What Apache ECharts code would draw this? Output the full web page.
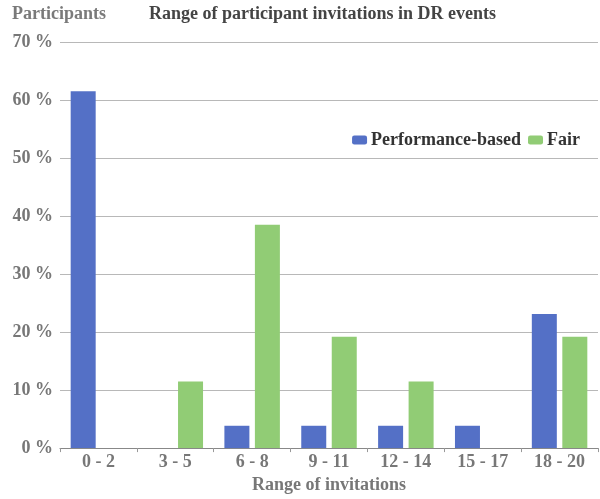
<!DOCTYPE html>
<html>
<head>
<meta charset="utf-8">
<script src="https://cdn.jsdelivr.net/npm/echarts@6/dist/echarts.min.js"></script>
<style>
  html, body { margin: 0; padding: 0; background: #fff; }
  #chart { width: 600px; height: 499px; }
</style>
</head>
<body>
<div id="chart"></div>
<script>
// ranges of invitations
var categories = ['0 - 2', '3 - 5', '6 - 8', '9 - 11', '12 - 14', '15 - 17', '18 - 20'];
// share of participants, percent
var performanceBased = [61.5, 0, 3.85, 3.85, 3.85, 3.85, 23.1];
var fair = [0, 11.5, 38.5, 19.2, 11.5, 0, 19.2];
var yTicks = [0, 10, 20, 30, 40, 50, 60, 70];

var font = 'Liberation Serif';
var chart = echarts.init(document.getElementById('chart'));

chart.setOption({
    animation: false,
    title: [{
        text: 'Participants',
        left: 7, top: 0,
        textStyle: { fontFamily: font, fontSize: 18, fontWeight: 'bold', color: '#7a7a7a' }
    }, {
        text: 'Range of participant invitations in DR events',
        left: 144, top: 0,
        textStyle: { fontFamily: font, fontSize: 18, fontWeight: 'bold', color: '#444' }
    }],
    legend: {
        right: 15, top: 126,
        itemWidth: 15, itemHeight: 9, itemGap: 7,
        icon: 'roundRect',
        textStyle: { fontFamily: font, fontSize: 18, fontWeight: 'bold', color: '#333', padding: [0, 0, 0, -1] },
        data: ['Performance-based', 'Fair']
    },
    grid: { left: 60, right: 2, top: 42, bottom: 44, containLabel: false },
    xAxis: {
        type: 'category',
        data: categories,
        name: 'Range of invitations',
        nameLocation: 'middle',
        nameGap: 24,
        nameTextStyle: { fontFamily: font, fontSize: 18, fontWeight: 'bold', color: '#777' },
        axisLine: { lineStyle: { color: '#888' } },
        axisTick: { show: true, length: 4, lineStyle: { color: '#999' } },
        axisLabel: { fontFamily: font, fontSize: 18, fontWeight: 'bold', color: '#777', margin: 5 }
    },
    yAxis: {
        type: 'value',
        min: yTicks[0], max: yTicks[yTicks.length - 1], interval: 10,
        axisLine: { show: false },
        axisTick: { show: false },
        splitLine: { lineStyle: { color: '#b8b8b8' } },
        axisLabel: {
            fontFamily: font, fontSize: 18, fontWeight: 'bold', color: '#777', margin: 7,
            formatter: function (v) { return v + ' %'; }
        }
    },
    series: [{
        name: 'Performance-based',
        type: 'bar',
        data: performanceBased,
        barWidth: 25,
        barGap: '22%',
        itemStyle: { color: '#5470c6' }
    }, {
        name: 'Fair',
        type: 'bar',
        data: fair,
        barWidth: 25,
        itemStyle: { color: '#91cc75' }
    }]
});
</script>
</body>
</html>
